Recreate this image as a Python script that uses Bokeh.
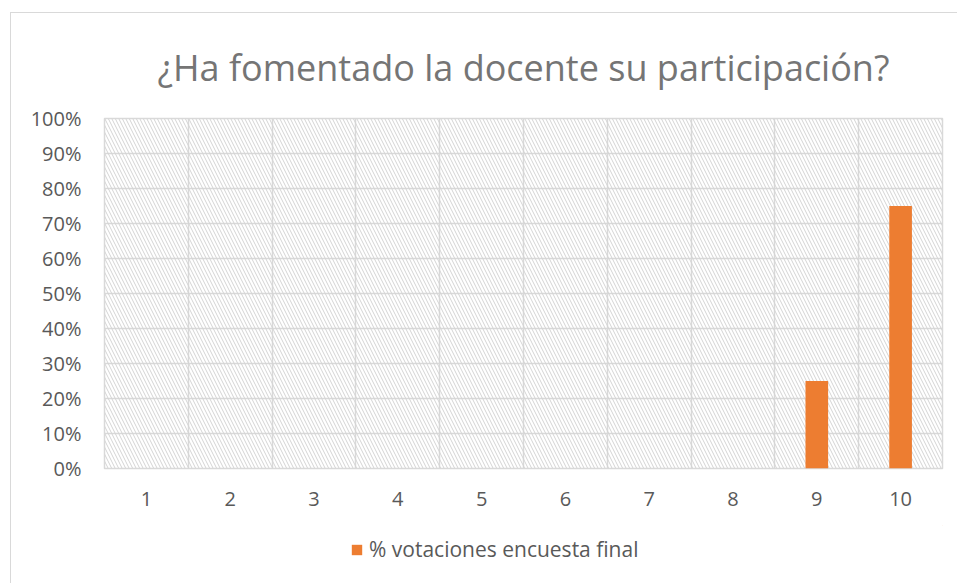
from bokeh.plotting import figure
from bokeh.layouts import column
from bokeh.models import (ColumnDataSource, FixedTicker, NumeralTickFormatter,
                          Range1d, BoxAnnotation, Legend, LegendItem)
from bokeh.embed import file_html
from bokeh.resources import INLINE

# Puntuaciones (1-10) y porcentaje de votos en la encuesta final
categories = [1, 2, 3, 4, 5, 6, 7, 8, 9, 10]
votes_pct = [0, 0, 0, 0, 0, 0, 0, 0, 0.25, 0.75]
y_ticks = [0, 0.1, 0.2, 0.3, 0.4, 0.5, 0.6, 0.7, 0.8, 0.9, 1.0]
series_name = "% votaciones encuesta final"
title_text = "¿Ha fomentado la docente su participación?"

FONT = "Open Sans"
TEXT = "#595959"
GRID = "#d9d9d9"
ORANGE = "#ED7D31"
BORDER = "1px solid #d9d9d9"

source = ColumnDataSource(data=dict(x=categories, y=votes_pct))

p = figure(width=947, height=513, output_backend="svg", toolbar_location=None,
           x_range=Range1d(0.5, 10.5), y_range=Range1d(0, 1),
           min_border_left=93, min_border_right=16, min_border_top=105,
           min_border_bottom=58)
p.margin = (12, 0, 0, 10)
p.styles = {"border-top": BORDER, "border-left": BORDER}

p.title.text = title_text
p.title.align = "center"
p.title.text_font = FONT
p.title.text_font_size = "36px"
p.title.text_font_style = "normal"
p.title.text_color = "#757575"
p.title.offset = 0
p.title.standoff = 53

# hatched plot-area background
p.add_layout(BoxAnnotation(fill_alpha=0, line_alpha=0, hatch_pattern="\\",
                           hatch_color="#d4d4d4", hatch_scale=7, hatch_weight=1,
                           level="underlay"))

bars = p.vbar(x="x", top="y", width=0.27, source=source,
              fill_color=ORANGE, line_color=None)

p.outline_line_color = GRID
p.outline_line_width = 1.5

p.xgrid.ticker = FixedTicker(ticks=[c + 0.5 for c in [0] + categories])
p.xgrid.grid_line_color = GRID
p.xgrid.grid_line_width = 1.5
p.ygrid.grid_line_color = GRID
p.ygrid.grid_line_width = 1.5

p.xaxis.ticker = FixedTicker(ticks=categories)
p.yaxis.ticker = FixedTicker(ticks=y_ticks)
p.yaxis.formatter = NumeralTickFormatter(format="0%")

for ax in (p.xaxis, p.yaxis):
    ax.axis_line_color = None
    ax.major_tick_line_color = None
    ax.minor_tick_line_color = None
    ax.major_label_text_font = FONT
    ax.major_label_text_font_size = "20px"
    ax.major_label_text_color = TEXT
p.yaxis.major_label_standoff = 17
p.xaxis.major_label_standoff = 17

# legend strip under the chart; the swatch renderer sits outside its range
lg = figure(width=947, height=58, output_backend="svg", toolbar_location=None,
            x_range=Range1d(0, 1), y_range=Range1d(0, 1),
            x_axis_location=None, y_axis_location=None,
            min_border=0, outline_line_color=None)
lg.margin = (0, 0, 0, 10)
lg.styles = {"border-left": BORDER}
lg.grid.visible = False
swatch = lg.vbar(x=[5], top=[5], bottom=[4], width=0.1,
                 fill_color=ORANGE, line_color=None)
legend = Legend(items=[LegendItem(label=series_name, renderers=[swatch])],
                orientation="horizontal", location=(246, 20),
                label_text_font=FONT, label_text_font_size="21px",
                label_text_color=TEXT, glyph_width=13, glyph_height=13,
                border_line_color=None, background_fill_alpha=0,
                margin=0, padding=0, label_standoff=6)
lg.add_layout(legend)

layout = column(p, lg, spacing=0)
open("out.html", "w").write(file_html(layout, INLINE))
